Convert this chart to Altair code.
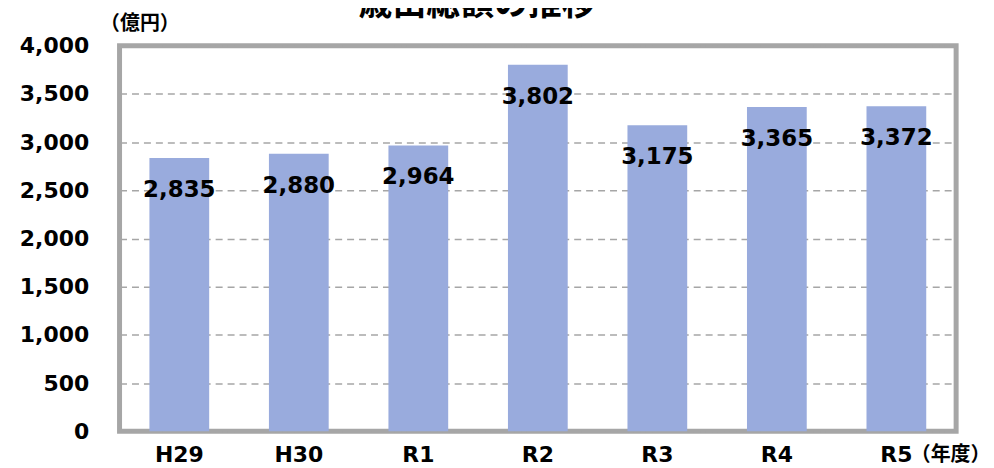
import altair as alt
import pandas as pd

years = ["H29", "H30", "R1", "R2", "R3", "R4", "R5"]
values = [2835, 2880, 2964, 3802, 3175, 3365, 3372]
y_ticks = [0, 500, 1000, 1500, 2000, 2500, 3000, 3500, 4000]

df = pd.DataFrame({"year": years, "value": values})
df["label"] = df["value"].map(lambda v: f"{v:,}")

FONT = "DejaVu Sans, Noto Sans CJK JP, sans-serif"
GRAY = "#a6a6a6"

base = alt.Chart(df)

x = alt.X(
    "year:N",
    sort=years,
    scale=alt.Scale(paddingInner=0.5, paddingOuter=0.25),
    axis=alt.Axis(
        title="（年度）",
        titleFont=FONT,
        titleFontSize=20,
        titleFontWeight="bold",
        titleColor="black",
        titleAngle=0,
        titleAlign="left",
        titleBaseline="middle",
        titleX=794,
        titleY=23,
        labelAngle=0,
        labelFont=FONT,
        labelFontSize=22,
        labelFontWeight="bold",
        labelColor="black",
        labelPadding=13,
        domain=False,
        ticks=False,
        grid=False,
    ),
)

y = alt.Y(
    "value:Q",
    scale=alt.Scale(domain=[0, 4000], nice=False),
    axis=alt.Axis(
        values=y_ticks,
        format=",.0f",
        title="（億円）",
        titleFont=FONT,
        titleFontSize=20,
        titleFontWeight="bold",
        titleColor="black",
        titleAngle=0,
        titleAlign="left",
        titleBaseline="middle",
        titleX=-20,
        titleY=-22,
        labelFont=FONT,
        labelFontSize=22,
        labelFontWeight="bold",
        labelColor="black",
        labelPadding=31,
        domain=False,
        ticks=False,
        grid=True,
        gridColor=GRAY,
        gridWidth=1.5,
        gridDash=[7, 5],
    ),
)

bars = base.mark_bar(color="#99abdd").encode(x=x, y=y)

labels = base.mark_text(
    font=FONT,
    fontSize=23,
    fontWeight="bold",
    color="black",
    baseline="middle",
    dy=32,
).encode(x=alt.X("year:N", sort=years), y="value:Q", text="label:N")

chart = (
    alt.layer(bars, labels)
    .properties(
        width=840,
        height=387,
        title=alt.TitleParams(
            "歳出総額の推移",
            anchor="start",
            frame="group",
            dx=240,
            offset=-8,
            font=FONT,
            fontSize=34,
            fontWeight="bold",
            color="black",
        ),
        autosize=alt.AutoSizeParams(type="none"),
        padding={"left": 112, "top": 37, "right": 30, "bottom": 36},
    )
    .configure(background="white")
    .configure_view(stroke=GRAY, strokeWidth=5)
)

chart.save("out.html", embed_options={"renderer": "svg", "actions": False})
